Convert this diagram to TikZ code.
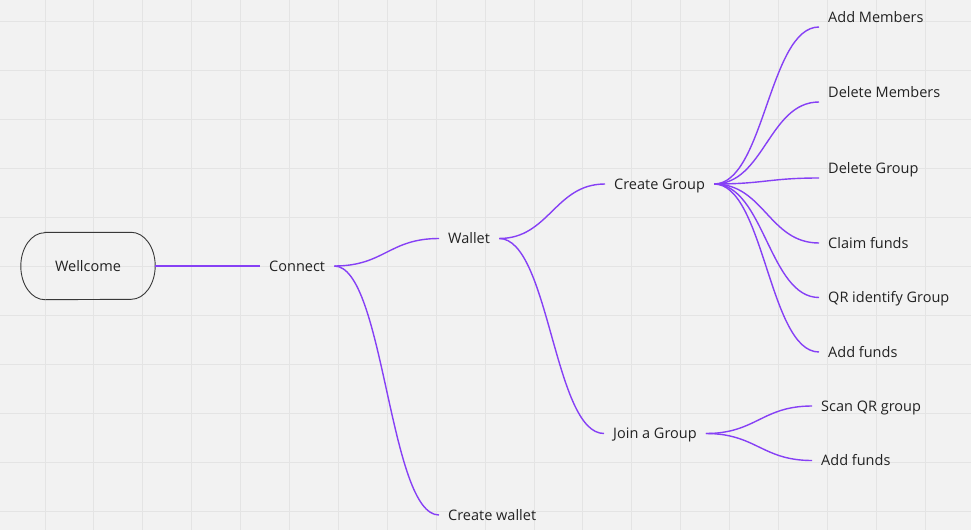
\documentclass[tikz,border=0pt]{standalone}
\usepackage{fontspec}
\setmainfont{Open Sans}
\usetikzlibrary{positioning}
\definecolor{board}{RGB}{242,242,242}
\definecolor{gridgray}{RGB}{228,228,228}
\definecolor{mindviolet}{RGB}{134,64,245}
\definecolor{inkgray}{RGB}{34,34,34}
\tikzset{
  topic/.style={anchor=west, inner xsep=9pt, inner ysep=0pt, text height=10pt,
    text depth=0pt, text=inkgray, font=\fontsize{14.5}{17}\selectfont},
  startbox/.style={minimum width=134pt, minimum height=67pt, text=inkgray,
    font=\fontsize{14.5}{17}\selectfont},
  boxline/.style={draw=inkgray!90, line width=0.9pt},
  branch/.style={draw=mindviolet, line width=1.4pt},
}
\begin{document}
\begin{tikzpicture}[x=1pt,y=-1pt]
 %the board
    \fill[board] (0,0) rectangle (971,530);
    \useasboundingbox (0,0) rectangle (971,530);
    \foreach \gx in {0,...,18}
       \draw[gridgray, line width=1pt] ({45+48.9*\gx},0) -- ({45+48.9*\gx},530);
    \foreach \gy in {0,...,10}
       \draw[gridgray, line width=1pt] (0,{21+49*\gy}) -- (971,{21+49*\gy});

 %the map
    %the topics
    \node[startbox] (wellcome) at (88,266) {Wellcome};
    \node[topic] (connect) at (260,266) {Connect};
    \node[topic] (wallet) at (439,238.5) {Wallet};
    \node[topic] (createwallet) at (439,515) {Create wallet};
    \node[topic] (creategroup) at (605,184) {Create Group};
    \node[topic] (joingroup) at (604,433.5) {Join a Group};
    \node[topic] (addmembers) at (819,17) {Add Members};
    \node[topic] (deletemembers) at (819,92) {Delete Members};
    \node[topic] (deletegroup) at (819,168) {Delete Group};
    \node[topic] (claimfunds) at (819,243) {Claim funds};
    \node[topic] (qrgroup) at (819,297.5) {QR identify Group};
    \node[topic] (addfunds) at (819,352) {Add funds};
    \node[topic] (scanqr) at (812,406) {Scan QR group};
    \node[topic] (addfundsjoin) at (812,460.5) {Add funds};

    %the start box outline, oval ends
    \draw[boxline] ([xshift=24pt]wellcome.north west) -- ([xshift=-24pt]wellcome.north east)
       arc[start angle=90, end angle=-90, x radius=24pt, y radius=33.5pt]
       -- ([xshift=24pt]wellcome.south west)
       arc[start angle=270, end angle=90, x radius=24pt, y radius=33.5pt] -- cycle;

    %the branches
    \begin{scope}[every path/.style={branch}]
       \draw (wellcome.east) -- (connect.west);
       \draw (connect.east) .. controls +(50,0) and +(-50,0) .. (wallet.west);
       \draw (connect.east) .. controls +(50,0) and +(-50,0) .. (createwallet.west);
       \draw (wallet.east) .. controls +(50,0) and +(-50,0) .. (creategroup.west);
       \draw (wallet.east) .. controls +(50,0) and +(-50,0) .. (joingroup.west);
       \draw (creategroup.east) .. controls +(50,0) and +(-50,0) .. ([yshift=-10pt]addmembers.west);
       \draw (creategroup.east) .. controls +(50,0) and +(-50,0) .. ([yshift=-10pt]deletemembers.west);
       \draw (creategroup.east) .. controls +(50,0) and +(-50,0) .. ([yshift=-10pt]deletegroup.west);
       \draw (creategroup.east) .. controls +(50,0) and +(-50,0) .. (claimfunds.west);
       \draw (creategroup.east) .. controls +(50,0) and +(-50,0) .. (qrgroup.west);
       \draw (creategroup.east) .. controls +(50,0) and +(-50,0) .. (addfunds.west);
       \draw (joingroup.east) .. controls +(50,0) and +(-50,0) .. (scanqr.west);
       \draw (joingroup.east) .. controls +(50,0) and +(-50,0) .. (addfundsjoin.west);
    \end{scope}
\end{tikzpicture}
\end{document}
